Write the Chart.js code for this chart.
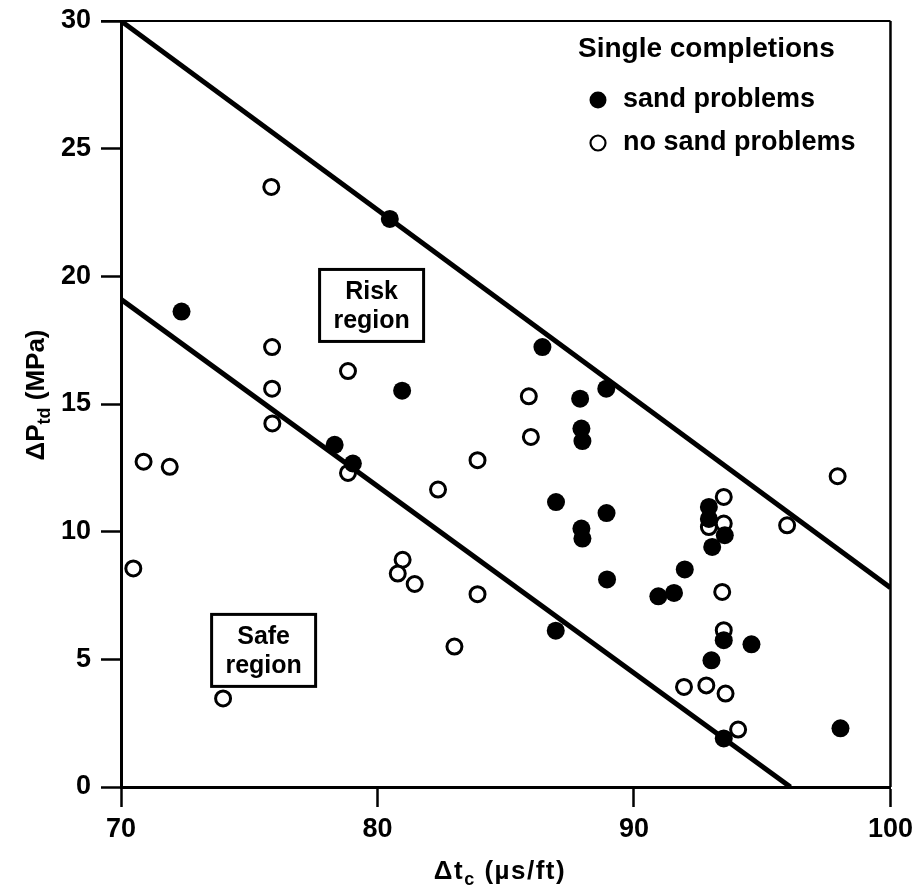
<!DOCTYPE html>
<html>
<head>
<meta charset="utf-8">
<script src="https://cdn.jsdelivr.net/npm/chart.js@4.4.1/dist/chart.umd.min.js"></script>
<style>
  html, body { margin: 0; padding: 0; background: #fff; }
  #wrap { width: 922px; height: 893px; }
</style>
</head>
<body>
<div id="wrap"><canvas id="c" width="922" height="893"></canvas></div>
<script>
// ---- data ----
const xTicks = [70, 80, 90, 100];
const yTicks = [0, 5, 10, 15, 20, 25, 30];

const sandX = [80.48, 72.36, 80.96, 78.33, 79.04, 86.43, 88.92, 87.90, 87.95, 87.99,
               86.96, 88.93, 87.95, 87.99, 88.95, 86.95, 90.95, 91.56, 91.98, 92.92,
               92.92, 93.54, 93.05, 93.50, 94.58, 93.02, 93.50, 98.05];
const sandY = [22.25, 18.62, 15.52, 13.40, 12.67, 17.23, 15.60, 15.21, 14.04, 13.55,
               11.16, 10.73, 10.12, 9.73, 8.13, 6.12, 7.47, 7.60, 8.52, 10.97,
               10.50, 9.86, 9.40, 5.75, 5.59, 4.96, 1.90, 2.30];

const noSandX = [75.86, 75.89, 75.89, 75.90, 78.85, 78.85, 70.88, 71.90, 70.48, 73.98,
                 80.98, 80.79, 81.45, 82.36, 83.00, 83.90, 83.90, 85.90, 85.98, 93.50,
                 92.92, 93.50, 93.44, 93.50, 95.97, 97.94, 91.95, 92.82, 93.57, 94.06];
const noSandY = [23.50, 17.23, 15.60, 14.24, 16.29, 12.30, 12.74, 12.54, 8.56, 3.47,
                 8.90, 8.36, 7.95, 11.65, 5.50, 12.80, 7.55, 15.30, 13.71, 11.36,
                 10.18, 10.32, 7.64, 6.14, 10.25, 12.17, 3.92, 3.98, 3.66, 2.25];

const riskLineX = [70, 100];
const riskLineY = [30, 7.8];
const safeLineX = [70, 96.1];
const safeLineY = [19.1, 0];

const regionLabels = [
  { lines: ['Risk', 'region'], x: 79.77, y: 18.86 },
  { lines: ['Safe', 'region'], x: 75.56, y: 5.35 }
];
const legendTitle = 'Single completions';
const legendItems = ['sand problems', 'no sand problems'];
const xTitle = [['Δt', false], ['c', true], [' (µs/ft)', false]];
const yTitle = [['ΔP', false], ['td', true], [' (MPa)', false]];

// ---- helpers ----
const FONT = '"Liberation Sans", Arial, Helvetica, sans-serif';
const pts = (xs, ys) => xs.map((x, i) => ({ x: x, y: ys[i] }));

function drawRich(ctx, parts, size, subSize, subShift, spacing) {
  ctx.letterSpacing = spacing + 'px';
  let w = 0;
  parts.forEach(([t, s]) => {
    ctx.font = 'bold ' + (s ? subSize : size) + 'px ' + FONT;
    w += ctx.measureText(t).width;
  });
  let x = -w / 2;
  parts.forEach(([t, s]) => {
    ctx.font = 'bold ' + (s ? subSize : size) + 'px ' + FONT;
    ctx.fillText(t, x, s ? subShift : 0);
    x += ctx.measureText(t).width;
  });
  ctx.letterSpacing = '0px';
}

const decor = {
  id: 'decor',
  afterDatasetsDraw(chart) {
    const { ctx, chartArea: a, scales: { x, y } } = chart;
    ctx.save();
    // top and right frame
    ctx.strokeStyle = '#000';
    ctx.lineWidth = 2;
    ctx.beginPath();
    ctx.moveTo(a.left - 20, a.top);
    ctx.lineTo(a.right, a.top);
    ctx.stroke();
    ctx.lineWidth = 2.5;
    ctx.beginPath();
    ctx.moveTo(a.right, a.top);
    ctx.lineTo(a.right, a.bottom);
    ctx.stroke();

    // region boxes
    ctx.textAlign = 'center';
    ctx.textBaseline = 'alphabetic';
    regionLabels.forEach(r => {
      const cx = x.getPixelForValue(r.x);
      const cy = y.getPixelForValue(r.y);
      const bw = 104, bh = 72;
      ctx.fillStyle = '#fff';
      ctx.fillRect(cx - bw / 2, cy - bh / 2, bw, bh);
      ctx.lineWidth = 3;
      ctx.strokeRect(cx - bw / 2, cy - bh / 2, bw, bh);
      ctx.fillStyle = '#000';
      ctx.font = 'bold 25px ' + FONT;
      ctx.fillText(r.lines[0], cx, cy - 6);
      ctx.fillText(r.lines[1], cx, cy + 23);
    });

    // legend
    ctx.textAlign = 'left';
    ctx.fillStyle = '#000';
    ctx.font = 'bold 28px ' + FONT;
    ctx.fillText(legendTitle, 578, 57);
    ctx.font = 'bold 27px ' + FONT;
    const ly = [100, 143];
    legendItems.forEach((t, i) => {
      ctx.beginPath();
      if (i === 0) {
        ctx.arc(598, ly[i], 8.5, 0, Math.PI * 2);
        ctx.fillStyle = '#000';
        ctx.fill();
      } else {
        ctx.arc(598, ly[i], 7.5, 0, Math.PI * 2);
        ctx.fillStyle = '#fff';
        ctx.fill();
        ctx.lineWidth = 2.2;
        ctx.stroke();
      }
      ctx.fillStyle = '#000';
      ctx.fillText(t, 623, ly[i] + 7);
    });

    // axis titles
    ctx.textAlign = 'left';
    ctx.save();
    ctx.translate(500, 879);
    drawRich(ctx, xTitle, 26, 18, 6, 1.5);
    ctx.restore();
    ctx.save();
    ctx.translate(44, 395);
    ctx.rotate(-Math.PI / 2);
    drawRich(ctx, yTitle, 26, 18, 6, 0);
    ctx.restore();
    ctx.restore();
  }
};

const tickFont = { family: FONT, size: 27, weight: 'bold', lineHeight: 1.0 };

new Chart(document.getElementById('c'), {
  type: 'scatter',
  data: {
    datasets: [
      { label: 'sand problems', data: pts(sandX, sandY), backgroundColor: '#000', borderColor: '#000',
        pointRadius: 9, borderWidth: 0, order: 0 },
      { label: 'no sand problems', data: pts(noSandX, noSandY), backgroundColor: '#fff', borderColor: '#000',
        pointRadius: 7.5, borderWidth: 3, order: 0 },
      { label: 'risk line', type: 'line', data: pts(riskLineX, riskLineY), borderColor: '#000',
        borderWidth: 5, pointRadius: 0, fill: false, order: 1 },
      { label: 'safe line', type: 'line', data: pts(safeLineX, safeLineY), borderColor: '#000',
        borderWidth: 5, pointRadius: 0, fill: false, order: 1 }
    ]
  },
  options: {
    responsive: false,
    animation: false,
    events: [],
    layout: { padding: { left: 0, right: 30, top: 21, bottom: 0 } },
    plugins: { legend: { display: false }, tooltip: { enabled: false } },
    scales: {
      x: {
        type: 'linear', min: 70, max: 100,
        afterBuildTicks: s => { s.ticks = xTicks.map(v => ({ value: v })); },
        afterFit: s => { s.height = 106; },
        border: { display: true, color: '#000', width: 3 },
        grid: { drawOnChartArea: false, drawTicks: true, tickLength: 20, tickWidth: 2.5, tickColor: '#000' },
        ticks: { color: '#000', font: tickFont, padding: 9, maxRotation: 0 }
      },
      y: {
        type: 'linear', min: 0, max: 30,
        afterBuildTicks: s => { s.ticks = yTicks.map(v => ({ value: v })); },
        afterFit: s => { s.width = 121; s.paddingTop = 0; s.paddingBottom = 0; },
        border: { display: true, color: '#000', width: 3 },
        grid: { drawOnChartArea: false, drawTicks: true, tickLength: 20, tickWidth: 2.5, tickColor: '#000' },
        ticks: { color: '#000', font: tickFont, padding: 10 }
      }
    }
  },
  plugins: [decor]
});
</script>
</body>
</html>
